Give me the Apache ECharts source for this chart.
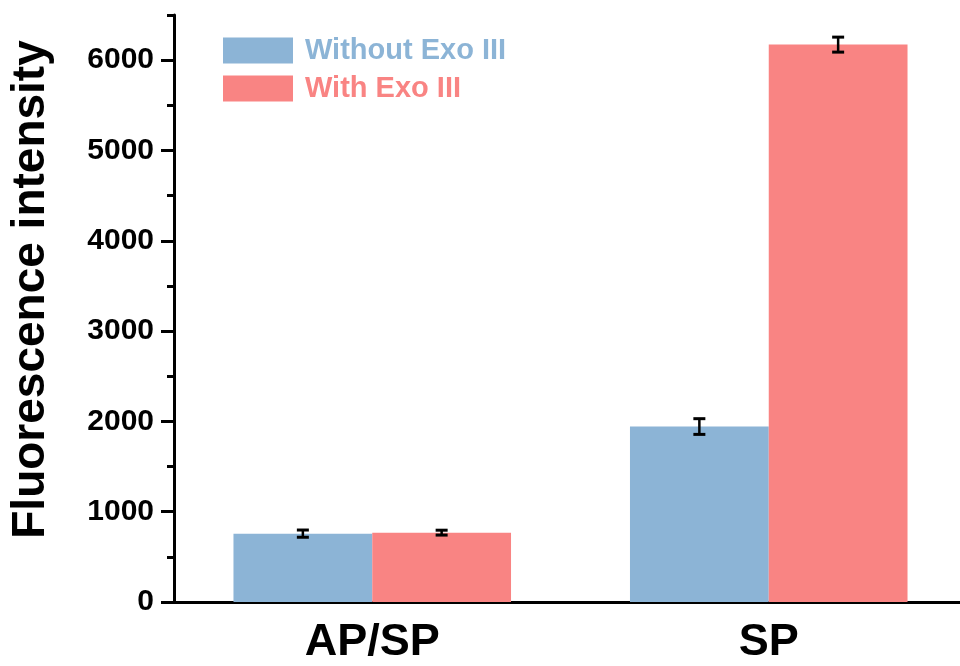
<!DOCTYPE html>
<html><head><meta charset="utf-8">
<script src="https://cdn.jsdelivr.net/npm/echarts@6/dist/echarts.min.js"></script>
<style>html,body{margin:0;padding:0;background:#fff;overflow:hidden;width:960px;height:666px}#c{width:967px;height:666px}</style>
</head><body><div id="c"></div>
<script>
const categories = ['AP/SP', 'SP'];
const seriesNames = ['Without Exo III', 'With Exo III'];
const withoutExo = [757, 1943];
const withExo = [768, 6172];
const withoutExoErr = [40, 87];
const withExoErr = [27, 83];
const yMajorTicks = [0, 1000, 2000, 3000, 4000, 5000, 6000];
const yMinorTicks = [500, 1500, 2500, 3500, 4500, 5500, 6500];

const BLUE = '#8cb4d6';
const RED = '#f98483';
const FONT = 'Liberation Sans';

function errData(vals, errs) {
  return vals.map((v, i) => [i, v, errs[i]]);
}
function errRender(sign) {
  return function (params, api) {
    const ci = api.value(0), v = api.value(1), e = api.value(2);
    const band = api.size([1, 0])[0];
    const c = api.coord([ci, v]);
    const x = c[0] + sign * band * 0.175;
    const top = api.coord([ci, v + e])[1];
    const bot = api.coord([ci, v - e])[1];
    const hw = 6;
    const st = { stroke: '#000', lineWidth: 3 };
    return {
      type: 'group', children: [
        { type: 'line', shape: { x1: x, y1: top, x2: x, y2: bot }, style: { stroke: '#000', lineWidth: 2.5 } },
        { type: 'line', shape: { x1: x - hw, y1: top, x2: x + hw, y2: top }, style: st },
        { type: 'line', shape: { x1: x - hw, y1: bot, x2: x + hw, y2: bot }, style: st }
      ]
    };
  };
}

const chart = echarts.init(document.getElementById('c'), null, { renderer: 'canvas' });
chart.setOption({
  animation: false,
  backgroundColor: '#fff',
  textStyle: { fontFamily: FONT },
  grid: { left: 173, right: 0, top: 15, bottom: 64, containLabel: false },
  legend: {
    orient: 'vertical', left: 218, top: 31,
    itemWidth: 70, itemHeight: 26, itemGap: 9,
    icon: 'rect',
    textStyle: { fontSize: 29, fontWeight: 'bold', fontFamily: FONT, padding: [0, 0, 0, 7] },
    data: [
      { name: seriesNames[0], textStyle: { color: BLUE } },
      { name: seriesNames[1], textStyle: { color: RED } }
    ]
  },
  xAxis: {
    type: 'category', data: categories,
    axisLine: { lineStyle: { color: '#000', width: 3 } },
    axisTick: { alignWithLabel: true, length: 12, lineStyle: { color: '#000', width: 3 } },
    axisLabel: { fontSize: 45, fontWeight: 'bold', color: '#000', margin: 18, fontFamily: FONT },
    splitLine: { show: false }
  },
  yAxis: [{
    type: 'value', position: 'left', min: 0, max: 6500, interval: 500,
    name: 'Fluorescence intensity', nameLocation: 'middle', nameGap: 120,
    nameTextStyle: { fontSize: 46, fontWeight: 'bold', color: '#000', fontFamily: FONT, padding: [0, 0, 0, 38] },
    axisLine: { show: true, lineStyle: { color: '#000', width: 3 } },
    axisTick: { show: true, length: 13, customValues: yMajorTicks, lineStyle: { color: '#000', width: 3 } },
    axisLabel: { fontSize: 30, fontWeight: 'bold', color: '#000', margin: 20, fontFamily: FONT,
      customValues: yMajorTicks, formatter: v => String(v) },
    splitLine: { show: false }
  }, {
    type: 'value', position: 'left', offset: 0, min: 0, max: 6500, interval: 500,
    axisLine: { show: false },
    axisTick: { show: true, length: 7, customValues: yMinorTicks, lineStyle: { color: '#000', width: 3 } },
    axisLabel: { show: false },
    splitLine: { show: false }
  }],
  series: [
    { name: seriesNames[0], type: 'bar', data: withoutExo, barGap: '0%', barCategoryGap: '30%', itemStyle: { color: BLUE }, z: 1 },
    { name: seriesNames[1], type: 'bar', data: withExo, barGap: '0%', barCategoryGap: '30%', itemStyle: { color: RED }, z: 1 },
    { type: 'custom', data: errData(withoutExo, withoutExoErr), renderItem: errRender(-1), encode: { x: 0, y: 1 }, z: 5, silent: true },
    { type: 'custom', data: errData(withExo, withExoErr), renderItem: errRender(1), encode: { x: 0, y: 1 }, z: 5, silent: true }
  ]
});
</script>
</body></html>
